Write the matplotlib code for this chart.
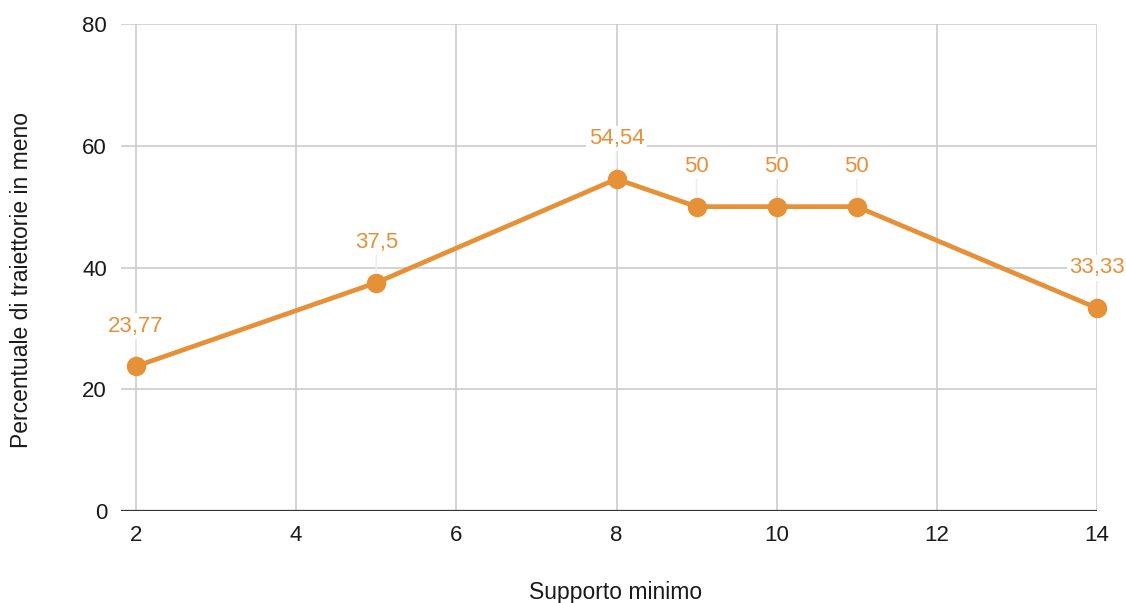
import matplotlib
matplotlib.use("Agg")
import matplotlib.pyplot as plt

plt.rcParams['font.family'] = ['Liberation Sans', 'DejaVu Sans']

supporto = [2, 5, 8, 9, 10, 11, 14]
percentuale = [23.77, 37.5, 54.54, 50, 50, 50, 33.33]
etichette = ["23,77", "37,5", "54,54", "50", "50", "50", "33,33"]
x_ticks = [2, 4, 6, 8, 10, 12, 14]
y_ticks = [0, 20, 40, 60, 80]

orange = "#e69138"
grid_c = "#cccccc"

fig = plt.figure(figsize=(11.26, 6.03), dpi=100)
ax = fig.add_axes([121 / 1126, 1 - 511 / 603, (1097 - 121) / 1126, (511 - 24) / 603])

ax.set_xlim(2 - 15 / 80.08, 14)
ax.set_ylim(0, 80)
ax.set_xticks(x_ticks)
ax.set_yticks(y_ticks)
ax.grid(True, color=grid_c, linewidth=1.2)
ax.set_axisbelow(True)
for s in ax.spines.values():
    s.set_visible(False)
ax.axhline(0, color="#333333", linewidth=1.6, zorder=2)
ax.tick_params(length=0, labelsize=16, colors="#1a1a1a")
ax.tick_params(axis='x', pad=10)
ax.tick_params(axis='y', pad=10)

ax.plot(supporto, percentuale, color=orange, linewidth=3.4, marker='o',
        markersize=13, zorder=3, clip_on=False)

for xv, yv, txt in zip(supporto, percentuale, etichette):
    ax.annotate(txt, (xv, yv), xytext=(0, 29), textcoords='offset points',
                ha='center', va='center', fontsize=16, color=orange,
                bbox=dict(boxstyle='square,pad=0.1', fc='white', ec='none'),
                arrowprops=dict(arrowstyle='-', color='#eeeeee', lw=1.2,
                                shrinkA=0, shrinkB=8),
                zorder=4, annotation_clip=False)

fig.text(616 / 1126, 1 - 592 / 603, "Supporto minimo", ha='center', va='center',
         fontsize=16.5, color="#1a1a1a")
fig.text(22 / 1126, 1 - 280 / 603, "Percentuale di traiettorie in meno", ha='center',
         va='center', rotation=90, fontsize=16.5, color="#1a1a1a")

fig.savefig("out.png", dpi=100)
